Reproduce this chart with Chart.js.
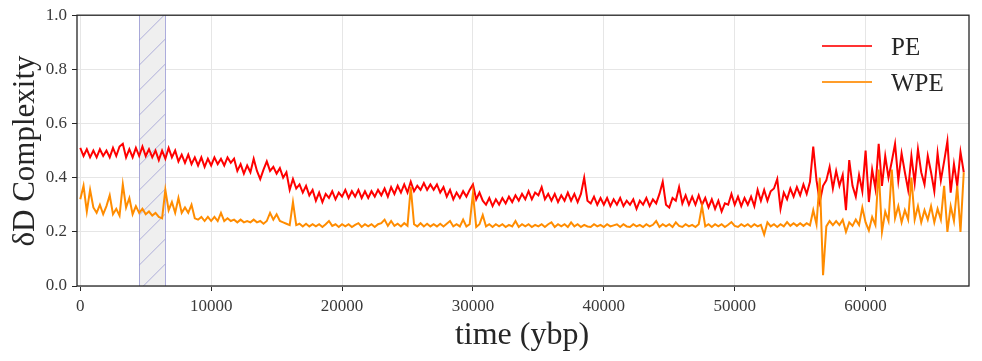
<!DOCTYPE html>
<html>
<head>
<meta charset="utf-8">
<script src="https://cdn.jsdelivr.net/npm/chart.js@4.4.1/dist/chart.umd.min.js"></script>
<style>
  html, body { margin: 0; padding: 0; background: #fff; }
  canvas { display: block; }
</style>
</head>
<body>
<canvas id="complexityChart" width="982" height="361"></canvas>
<script>
// sampling grid of the series (years before present)
const START_YEAR = 0;
const YEAR_STEP = 250;

// shaded interval
const SHADE_FROM = 4500;
const SHADE_TO = 6500;

const X_TICKS = [0, 10000, 20000, 30000, 40000, 50000, 60000];
const Y_TICKS = [0.0, 0.2, 0.4, 0.6, 0.8, 1.0];

const PE = [
  0.51, 0.48, 0.505, 0.475,   0.50, 0.475, 0.505, 0.48,  0.50, 0.475, 0.51, 0.48,
  0.515, 0.525, 0.475, 0.505, 0.475, 0.51, 0.48, 0.515,  0.48, 0.505, 0.475, 0.50,
  0.465, 0.50, 0.47, 0.51,    0.475, 0.50, 0.46, 0.485,  0.455, 0.485, 0.45, 0.475,
  0.445, 0.475, 0.44, 0.47,   0.445, 0.475, 0.45, 0.47,  0.445, 0.475, 0.455, 0.47,
  0.425, 0.45, 0.415, 0.445,  0.42, 0.47, 0.425, 0.395,  0.43, 0.46, 0.425, 0.44,
  0.415, 0.435, 0.40, 0.42,   0.355, 0.395, 0.36, 0.375, 0.345, 0.37, 0.335, 0.355,
  0.315, 0.345, 0.31, 0.34,   0.325, 0.35, 0.32, 0.345,  0.33, 0.355, 0.325, 0.35,
  0.33, 0.355, 0.325, 0.35,   0.325, 0.35, 0.33, 0.355,  0.335, 0.36, 0.33, 0.365,
  0.34, 0.37, 0.345, 0.375,   0.345, 0.385, 0.35, 0.37,  0.355, 0.38, 0.355, 0.375,
  0.355, 0.375, 0.345, 0.365, 0.33, 0.355, 0.32, 0.345,  0.325, 0.35, 0.33, 0.355,
  0.375, 0.32, 0.345, 0.315,  0.30, 0.325, 0.295, 0.32,  0.30, 0.325, 0.305, 0.33,
  0.31, 0.335, 0.315, 0.34,   0.32, 0.35, 0.32, 0.345,   0.335, 0.365, 0.32, 0.34,
  0.315, 0.34, 0.31, 0.335,   0.315, 0.345, 0.315, 0.34, 0.31, 0.34, 0.40, 0.315,
  0.305, 0.33, 0.30, 0.325,   0.30, 0.325, 0.295, 0.32,  0.30, 0.325, 0.295, 0.315,
  0.30, 0.32, 0.285, 0.315,   0.30, 0.325, 0.295, 0.32,  0.305, 0.34, 0.385, 0.30,
  0.29, 0.325, 0.315, 0.365,  0.305, 0.335, 0.30, 0.33,  0.30, 0.335, 0.30, 0.325,
  0.29, 0.32, 0.285, 0.315,   0.275, 0.305, 0.30, 0.34,  0.30, 0.33, 0.295, 0.325,
  0.30, 0.33, 0.295, 0.355,   0.315, 0.355, 0.315, 0.35, 0.36, 0.395, 0.285, 0.345,
  0.32, 0.36, 0.33, 0.365,    0.335, 0.375, 0.34, 0.385, 0.515, 0.39, 0.31, 0.37,
  0.39, 0.44, 0.36, 0.425,    0.37, 0.41, 0.28, 0.465,   0.37, 0.33, 0.41, 0.35,
  0.50, 0.31, 0.43, 0.36,     0.525, 0.37, 0.48, 0.40,   0.46, 0.525, 0.39, 0.49,
  0.42, 0.355, 0.48, 0.38,    0.505, 0.42, 0.375, 0.48,  0.42, 0.35, 0.49, 0.39,
  0.46, 0.535, 0.345, 0.45,   0.37, 0.495, 0.42
];

const WPE = [
  0.32, 0.37, 0.275, 0.355,   0.29, 0.27, 0.30, 0.265,   0.295, 0.335, 0.265, 0.285,
  0.26, 0.375, 0.29, 0.325,   0.265, 0.295, 0.27, 0.285, 0.265, 0.275, 0.26, 0.27,
  0.255, 0.25, 0.355, 0.28,   0.31, 0.27, 0.325, 0.27,   0.29, 0.27, 0.30, 0.25,
  0.245, 0.255, 0.24, 0.255,  0.24, 0.255, 0.24, 0.27,   0.24, 0.25, 0.24, 0.245,
  0.235, 0.245, 0.235, 0.24,  0.235, 0.245, 0.235, 0.24, 0.23, 0.24, 0.27, 0.245,
  0.265, 0.24, 0.235, 0.23,   0.225, 0.31, 0.225, 0.23,  0.22, 0.23, 0.22, 0.228,
  0.22, 0.228, 0.218, 0.228,  0.24, 0.222, 0.228, 0.218, 0.228, 0.22, 0.228, 0.218,
  0.226, 0.232, 0.218, 0.228, 0.22, 0.228, 0.218, 0.228, 0.232, 0.245, 0.222, 0.24,
  0.222, 0.23, 0.22, 0.232,   0.222, 0.365, 0.228, 0.22, 0.232, 0.22, 0.23, 0.22,
  0.228, 0.22, 0.23, 0.22,    0.23, 0.24, 0.22, 0.228,   0.22, 0.245, 0.22, 0.228,
  0.343, 0.218, 0.228, 0.262, 0.22, 0.228, 0.218, 0.228, 0.22, 0.228, 0.218, 0.226,
  0.22, 0.24, 0.218, 0.228,   0.22, 0.228, 0.218, 0.226, 0.22, 0.228, 0.218, 0.228,
  0.235, 0.218, 0.228, 0.22,  0.228, 0.218, 0.235, 0.22, 0.228, 0.218, 0.226, 0.22,
  0.218, 0.228, 0.22, 0.226,  0.218, 0.228, 0.22, 0.224, 0.228, 0.218, 0.228, 0.22,
  0.218, 0.228, 0.22, 0.226,  0.218, 0.228, 0.22, 0.226, 0.24, 0.218, 0.228, 0.22,
  0.228, 0.218, 0.235, 0.222, 0.218, 0.228, 0.22, 0.226, 0.218, 0.228, 0.295, 0.22,
  0.228, 0.218, 0.228, 0.22,  0.228, 0.218, 0.226, 0.236, 0.222, 0.218, 0.228, 0.22,
  0.228, 0.218, 0.228, 0.22,  0.226, 0.19, 0.235, 0.22,  0.228, 0.218, 0.228, 0.22,
  0.236, 0.222, 0.232, 0.222, 0.232, 0.222, 0.232, 0.224, 0.28, 0.228, 0.40, 0.04,
  0.22, 0.24, 0.225, 0.24,    0.225, 0.245, 0.20, 0.235, 0.222, 0.245, 0.225, 0.29,
  0.235, 0.205, 0.255, 0.225, 0.43, 0.20, 0.275, 0.24,   0.43, 0.25, 0.295, 0.235,
  0.28, 0.245, 0.40, 0.245,   0.295, 0.235, 0.28, 0.245, 0.295, 0.235, 0.285, 0.245,
  0.37, 0.20, 0.295, 0.24,    0.37, 0.20, 0.42
];

const SERIF = "'Liberation Serif', 'Times New Roman', serif";
const INK = '#262626';

const toPoints = (vals) => vals.map((v, i) => ({ x: START_YEAR + i * YEAR_STEP, y: v }));

// hatched band behind the lines
const shadePlugin = {
  id: 'shade',
  beforeDatasetsDraw(chart) {
    const { ctx, chartArea, scales } = chart;
    const x0 = scales.x.getPixelForValue(SHADE_FROM);
    const x1 = scales.x.getPixelForValue(SHADE_TO);
    const top = chartArea.top, bottom = chartArea.bottom;
    ctx.save();
    ctx.fillStyle = '#efefef';
    ctx.fillRect(x0, top, x1 - x0, bottom - top);
    ctx.beginPath();
    ctx.rect(x0, top, x1 - x0, bottom - top);
    ctx.clip();
    ctx.strokeStyle = 'rgba(120, 120, 200, 0.55)';
    ctx.lineWidth = 1;
    const gap = 25;
    for (let y = top - gap; y < bottom + (x1 - x0) + gap; y += gap) {
      ctx.beginPath();
      ctx.moveTo(x0, y);
      ctx.lineTo(x1, y - (x1 - x0));
      ctx.stroke();
    }
    ctx.restore();
    ctx.save();
    ctx.strokeStyle = 'rgba(120, 120, 200, 0.6)';
    ctx.lineWidth = 1;
    ctx.beginPath();
    ctx.moveTo(Math.round(x0) + 0.5, top);
    ctx.lineTo(Math.round(x0) + 0.5, bottom);
    ctx.moveTo(Math.round(x1) + 0.5, top);
    ctx.lineTo(Math.round(x1) + 0.5, bottom);
    ctx.stroke();
    ctx.restore();
  }
};

// frame, axis titles and legend
const decorPlugin = {
  id: 'decor',
  afterDraw(chart) {
    const { ctx, chartArea } = chart;
    ctx.save();
    ctx.strokeStyle = INK;
    ctx.lineWidth = 1.3;
    ctx.strokeRect(chartArea.left, chartArea.top, chartArea.right - chartArea.left, chartArea.bottom - chartArea.top);

    ctx.fillStyle = INK;
    ctx.font = '32px ' + SERIF;
    ctx.textAlign = 'center';
    ctx.textBaseline = 'alphabetic';
    ctx.fillText('time (ybp)', 522, 344);

    ctx.save();
    ctx.translate(34, 151);
    ctx.rotate(-Math.PI / 2);
    ctx.font = '31px ' + SERIF;
    ctx.fillText('\u03b4D Complexity', 0, 0);
    ctx.restore();

    const items = [
      { label: 'PE', color: '#ff3333', y: 46 },
      { label: 'WPE', color: '#ff9d2a', y: 82 }
    ];
    ctx.font = '25px ' + SERIF;
    ctx.textAlign = 'left';
    items.forEach((it) => {
      ctx.strokeStyle = it.color;
      ctx.lineWidth = 2;
      ctx.beginPath();
      ctx.moveTo(822, it.y);
      ctx.lineTo(872, it.y);
      ctx.stroke();
      ctx.fillText(it.label, 891, it.y + 9);
    });
    ctx.restore();
  }
};

new Chart(document.getElementById('complexityChart').getContext('2d'), {
  type: 'line',
  data: {
    datasets: [
      {
        label: 'PE',
        data: toPoints(PE),
        borderColor: '#ff0000',
        borderWidth: 2,
        pointRadius: 0,
        tension: 0,
        order: 2
      },
      {
        label: 'WPE',
        data: toPoints(WPE),
        borderColor: '#ff8c00',
        borderWidth: 2,
        pointRadius: 0,
        tension: 0,
        order: 1
      }
    ]
  },
  options: {
    responsive: false,
    devicePixelRatio: 1,
    animation: false,
    layout: { padding: { top: 15, right: 13, left: 0, bottom: 0 } },
    plugins: {
      legend: { display: false },
      tooltip: { enabled: false }
    },
    scales: {
      x: {
        type: 'linear',
        min: -250,
        max: 67900,
        afterFit: (scale) => { scale.height = 75; },
        afterBuildTicks: (scale) => { scale.ticks = X_TICKS.map((v) => ({ value: v })); },
        grid: { color: '#e6e6e6', tickColor: INK, tickLength: 5 },
        border: { display: false },
        ticks: {
          color: '#3a3a3a',
          padding: 5,
          maxRotation: 0,
          font: { family: SERIF, size: 17 },
          callback: (v) => String(v)
        }
      },
      y: {
        type: 'linear',
        min: 0,
        max: 1,
        afterFit: (scale) => { scale.width = 77; },
        afterBuildTicks: (scale) => { scale.ticks = Y_TICKS.map((v) => ({ value: v })); },
        grid: { color: '#e6e6e6', tickColor: INK, tickLength: 5 },
        border: { display: false },
        ticks: {
          color: '#3a3a3a',
          padding: 5,
          font: { family: SERIF, size: 17 },
          callback: (v) => Number(v).toFixed(1)
        }
      }
    }
  },
  plugins: [shadePlugin, decorPlugin]
});
</script>
</body>
</html>
